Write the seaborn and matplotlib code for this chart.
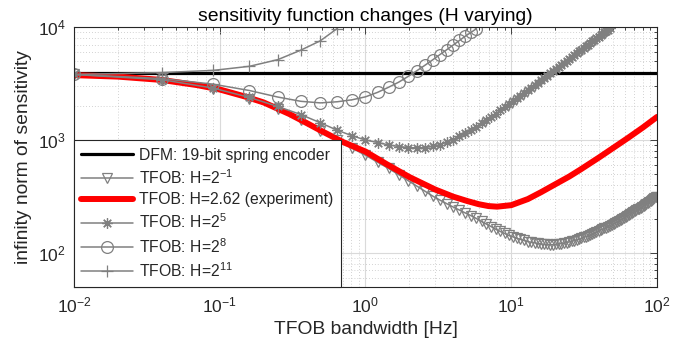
import matplotlib
matplotlib.use("Agg")
import numpy as np
import matplotlib.pyplot as plt
import seaborn as sns
from matplotlib.ticker import LogLocator, LogFormatterMathtext, NullFormatter

# TFOB bandwidth grid [Hz] (shared by the marker curves)
bw_hz = [
    0.01, 0.04, 0.09, 0.16, 0.25, 0.36, 0.49, 0.64, 0.81, 1.00,
    1.21, 1.44, 1.69, 1.96, 2.25, 2.56, 2.89, 3.24, 3.61, 4.00,
    4.41, 4.84, 5.29, 5.76, 6.25, 6.76, 7.29, 7.84, 8.41, 9.00,
    9.61, 10.24, 10.89, 11.56, 12.25, 12.96, 13.69, 14.44, 15.21, 16.00,
    16.81, 17.64, 18.49, 19.36, 20.25, 21.16, 22.09, 23.04, 24.01, 25.00,
    26.01, 27.04, 28.09, 29.16, 30.25, 31.36, 32.49, 33.64, 34.81, 36.00,
    37.21, 38.44, 39.69, 40.96, 42.25, 43.56, 44.89, 46.24, 47.61, 49.00,
    50.41, 51.84, 53.29, 54.76, 56.25, 57.76, 59.29, 60.84, 62.41, 64.00,
    65.61, 67.24, 68.89, 70.56, 72.25, 73.96, 75.69, 77.44, 79.21, 81.00,
    82.81, 84.64, 86.49, 88.36, 90.25, 92.16, 94.09, 96.04, 98.01, 100.0,
]

# infinity norm of sensitivity
s_h_half = [
    3800, 3400, 2850, 2320, 1880, 1500, 1210, 990, 845, 733,
    636, 560, 493, 437, 391, 352, 319, 294, 273, 255,
    240, 226, 214, 202, 190, 180, 171, 162, 155, 149,
    143, 139, 135, 132, 129, 126, 124.5, 123, 121.5, 120,
    119.5, 119, 118.3, 118.2, 119.3, 120.3, 121.2, 122, 123.7, 125.3,
    127, 128.6, 130.1, 132.6, 135, 137.4, 139.8, 142.2, 144.6, 147.4,
    150.3, 153.2, 156.1, 159, 162, 165, 168, 171, 174.6, 177.9,
    181.3, 184.7, 188.1, 191.6, 195.4, 199.5, 203.6, 207.8, 212, 216.2,
    220.4, 224.7, 229, 233.5, 238.1, 242.6, 247.3, 252, 256.7, 261.4,
    266.2, 271, 276.4, 281.8, 287.4, 293, 298.6, 304.3, 310, 316,
]
s_h_2p5 = [
    3800, 3420, 2880, 2380, 1980, 1680, 1420, 1220, 1090, 1000,
    950, 905, 875, 858, 852, 858, 878, 910, 955, 1010,
    1082, 1143, 1232, 1316, 1400, 1500, 1603, 1709, 1825, 1946,
    2071, 2199, 2332, 2470, 2610, 2757, 2906, 3059, 3218, 3380,
    3547, 3717, 3891, 4068, 4253, 4444, 4639, 4838, 5042, 5250,
    5452, 5659, 5868, 6084, 6300, 6523, 6748, 6979, 7212, 7450,
    7692, 7939, 8189, 8445, 8700, 8958, 9218, 9482, 9750,
]
s_h_2p8 = [
    3800, 3500, 3120, 2740, 2400, 2200, 2130, 2180, 2270, 2410,
    2640, 2930, 3250, 3650, 4100, 4590, 5120, 5700, 6300, 6930,
    7600, 8300, 8950, 9650,
]
s_h_2p11 = [3800, 3950, 4130, 4490, 5140, 6240, 7550, 9700]

# experiment curve (H = 2.62)
exp_bw = [0.01, 0.02, 0.04, 0.07, 0.1, 0.15, 0.2, 0.3, 0.4, 0.5, 0.7, 1.0,
          1.4, 2, 3, 4, 5, 6, 7, 8, 10, 13, 16, 20, 25, 30, 40, 50, 63, 80, 100]
s_exp = [3750, 3640, 3400, 3060, 2800, 2420, 2150, 1700, 1400, 1200, 960, 790,
         610, 470, 365, 315, 288, 270, 260, 257, 265, 300, 345, 405, 475, 550,
         700, 850, 1040, 1290, 1600]

# DFM reference level
dfm_bw = [0.01, 100]
s_dfm = [3950, 3950]

sns.set_theme(style="white")
plt.rcParams["font.family"] = ["Liberation Sans", "DejaVu Sans"]
plt.rcParams["mathtext.fontset"] = "custom"
plt.rcParams["mathtext.rm"] = "Liberation Sans"
plt.rcParams["mathtext.it"] = "Liberation Sans:italic"
plt.rcParams["mathtext.bf"] = "Liberation Sans:bold"

fig = plt.figure(figsize=(6.94, 3.54), dpi=100)
ax = fig.add_axes([0.1066, 0.1893, 0.8401, 0.7344])

gray = "#808080"
ink = "#262626"

sns.lineplot(x=dfm_bw, y=s_dfm, color="black", linewidth=2.3, estimator=None,
             label="DFM: 19-bit spring encoder", ax=ax)
sns.lineplot(x=bw_hz, y=s_h_half, color=gray, linewidth=1.1, estimator=None,
             marker="v", markersize=7.5, markerfacecolor="none",
             markeredgecolor=gray, markeredgewidth=0.9,
             label="TFOB: H=$2^{-1}$", ax=ax)
sns.lineplot(x=exp_bw, y=s_exp, color="red", linewidth=4.3, estimator=None,
             label="TFOB: H=2.62 (experiment)", ax=ax)
sns.lineplot(x=bw_hz[:len(s_h_2p5)], y=s_h_2p5, color=gray, linewidth=1.1,
             estimator=None, marker=(8, 2, 0), markersize=7.5,
             markeredgecolor=gray, markeredgewidth=0.9,
             label="TFOB: H=$2^{5}$", ax=ax)
sns.lineplot(x=bw_hz[:len(s_h_2p8)], y=s_h_2p8, color=gray, linewidth=1.1,
             estimator=None, marker="o", markersize=8.5, markerfacecolor="none",
             markeredgecolor=gray, markeredgewidth=0.9,
             label="TFOB: H=$2^{8}$", ax=ax)
sns.lineplot(x=bw_hz[:len(s_h_2p11)], y=s_h_2p11, color=gray, linewidth=1.1,
             estimator=None, marker="+", markersize=9,
             markeredgecolor=gray, markeredgewidth=0.9,
             label="TFOB: H=$2^{11}$", ax=ax)

ax.set_xscale("log")
ax.set_yscale("log")
ax.set_xlim(0.01, 100)
ax.set_ylim(50, 1e4)

for axis in (ax.xaxis, ax.yaxis):
    axis.set_major_locator(LogLocator(base=10, numticks=10))
    axis.set_minor_locator(LogLocator(base=10, subs=np.arange(2, 10) * 1.0, numticks=100))
    axis.set_major_formatter(LogFormatterMathtext())
    axis.set_minor_formatter(NullFormatter())

ax.grid(which="major", color="#dadada", linewidth=0.8, linestyle="-")
ax.grid(which="minor", color="#c4c4c4", linewidth=0.6, linestyle=(0, (1, 2.5)))
ax.set_axisbelow(True)

ax.tick_params(which="both", direction="in", top=True, right=True,
               colors=ink, labelsize=12.6, width=0.6)
ax.tick_params(which="major", length=5, pad=6)
ax.tick_params(which="minor", length=2.5)
for sp in ax.spines.values():
    sp.set_color(ink)
    sp.set_linewidth(0.8)

ax.set_title("sensitivity function changes (H varying)", fontsize=13.9, color="black", pad=4)
ax.set_xlabel("TFOB bandwidth [Hz]", fontsize=13.9, color=ink, labelpad=4)
ax.set_ylabel("infinity norm of sensitivity", fontsize=13.9, color=ink, labelpad=4)

leg = ax.legend(loc="lower left", bbox_to_anchor=(0, 0), borderaxespad=0,
                fontsize=11.35, handlelength=3.3, handletextpad=0.4,
                labelspacing=0.35, borderpad=0.45, fancybox=False,
                framealpha=1, edgecolor=ink)
leg.get_frame().set_linewidth(0.8)

fig.savefig("out.png", dpi=100)
